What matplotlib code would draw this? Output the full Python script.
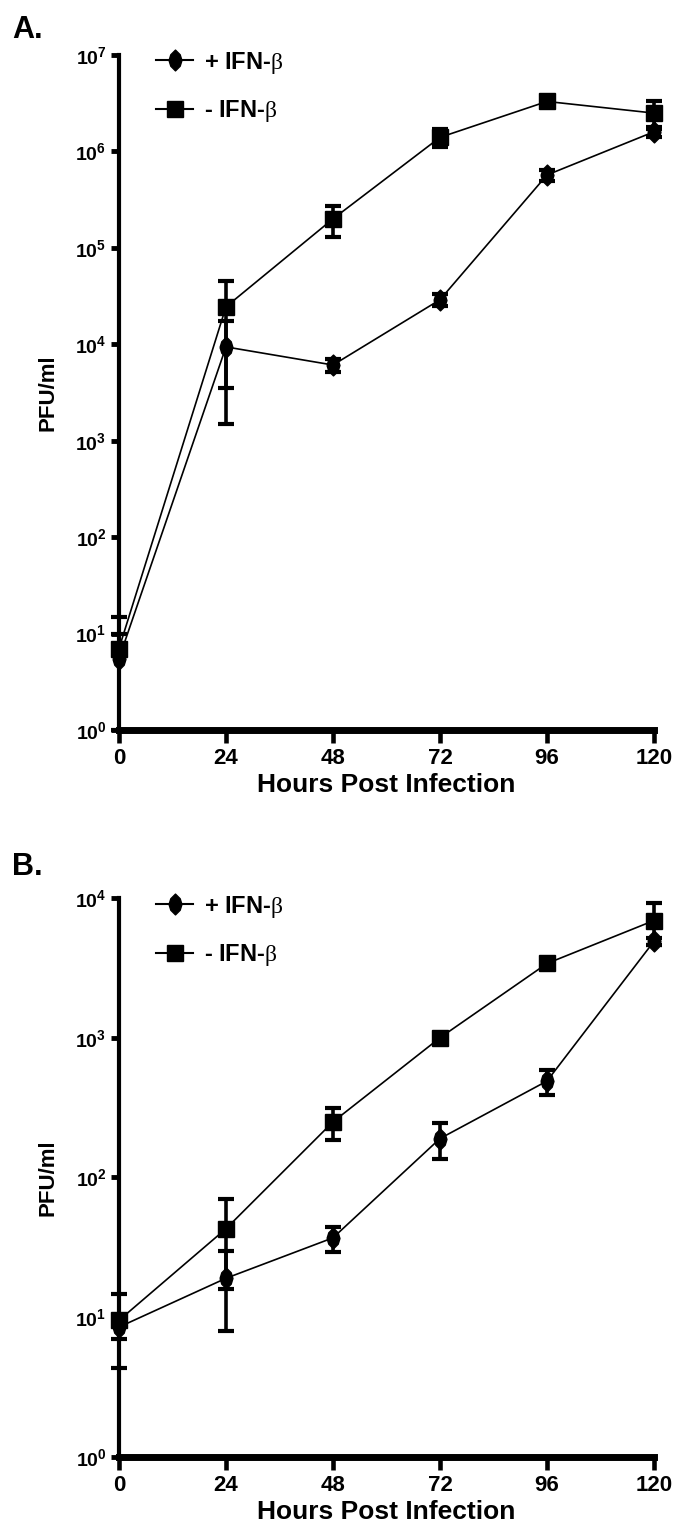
import numpy as np
import matplotlib
matplotlib.use("Agg")
import matplotlib.pyplot as plt
from matplotlib.ticker import FuncFormatter, NullLocator, FixedLocator

plt.rcParams['font.family'] = ['Liberation Sans', 'DejaVu Sans']
plt.rcParams['mathtext.fontset'] = 'custom'
plt.rcParams['mathtext.rm'] = 'Liberation Serif'
plt.rcParams['mathtext.bf'] = 'Liberation Sans:bold'

hours = [0, 24, 48, 72, 96, 120]

# panel A
a_plus = [5.5, 9400, 6100, 29000, 5.7e5, 1.6e6]
a_plus_sd = [4.5, 7900, 900, 4000, 8e4, 2e5]
a_minus = [7, 24500, 2.0e5, 1.4e6, 3.3e6, 2.5e6]
a_minus_sd = [8, 21000, 7e4, 3e5, 4e5, 8e5]

# panel B
b_plus = [8.5, 19, 37, 190, 490, 4900]
b_plus_sd = [1.5, 11, 7.5, 55, 100, 300]
b_minus = [9.5, 43, 250, 1000, 3400, 6900]
b_minus_sd = [5.2, 27, 65, 80, 250, 2300]

labels = ['+ IFN-$\\mathrm{\\beta}$', '- IFN-$\\mathrm{\\beta}$']

# tall rounded diamond like the GraphPad symbol
diamond = [(-0.62, 0), (-0.45, 0.55), (0, 1), (0.45, 0.55), (0.62, 0),
           (0.45, -0.55), (0, -1), (-0.45, -0.55), (-0.62, 0)]


def draw_series(ax, y, sd, marker, ms):
    y = np.array(y, dtype=float)
    sd = np.array(sd, dtype=float)
    lo = np.where(sd < y, sd, 0)
    cont = ax.errorbar(hours, y, yerr=[lo, sd], marker=marker, ms=ms,
                       color='k', mfc='k', mec='k', lw=1.2,
                       elinewidth=2.6, capsize=5.5, capthick=3, zorder=3)
    for art in cont.get_children():
        art.set_clip_on(False)
    return cont[0]


def panel(ax, plus, plus_sd, minus, minus_sd, top_exp):
    h1 = draw_series(ax, plus, plus_sd, diamond, 15)
    h2 = draw_series(ax, minus, minus_sd, 's', 12)

    ax.set_yscale('log')
    ax.set_ylim(1, 10 ** top_exp)
    ax.set_xlim(0, 120)
    ax.yaxis.set_major_locator(FixedLocator([10.0 ** k for k in range(top_exp + 1)]))
    ax.yaxis.set_minor_locator(NullLocator())
    ax.yaxis.set_major_formatter(FuncFormatter(
        lambda v, p: r'$\mathbf{10^{%d}}$' % round(np.log10(v))))
    ax.set_xticks(hours)

    for s in ['top', 'right']:
        ax.spines[s].set_visible(False)
    ax.spines['left'].set_linewidth(3)
    ax.spines['bottom'].set_linewidth(5)
    ax.tick_params(axis='y', direction='out', length=6, width=3.5,
                   labelsize=14, pad=3)
    ax.tick_params(axis='x', direction='out', length=9, width=3.3,
                   labelsize=16, pad=4)
    for t in ax.get_xticklabels():
        t.set_fontweight('bold')

    ax.set_xlabel('Hours Post Infection', fontsize=19, fontweight='bold', labelpad=3)
    ax.set_ylabel('PFU/ml', fontsize=16, fontweight='bold', labelpad=12)

    leg = ax.legend([h1, h2], labels, loc='upper left',
                    bbox_to_anchor=(0.07, 1.008), frameon=False,
                    handlelength=1.55, handletextpad=0.45, labelspacing=0.95,
                    borderaxespad=0, borderpad=0, numpoints=1,
                    prop={'size': 17, 'weight': 'bold'})
    for line in leg.get_lines():
        line.set_linewidth(1.5)


fig = plt.figure(figsize=(6.85, 15.33), dpi=100)

axA = fig.add_axes([0.1737, 0.5238, 0.7810, 0.4403])
panel(axA, a_plus, a_plus_sd, a_minus, a_minus_sd, 7)

axB = fig.add_axes([0.1737, 0.0496, 0.7810, 0.3646])
panel(axB, b_plus, b_plus_sd, b_minus, b_minus_sd, 4)

fig.text(12 / 685, 1 - 38 / 1533, 'A.', fontsize=22, fontweight='bold', va='baseline')
fig.text(12 / 685, 1 - 875 / 1533, 'B.', fontsize=22, fontweight='bold', va='baseline')

fig.savefig('out.png', dpi=100)
